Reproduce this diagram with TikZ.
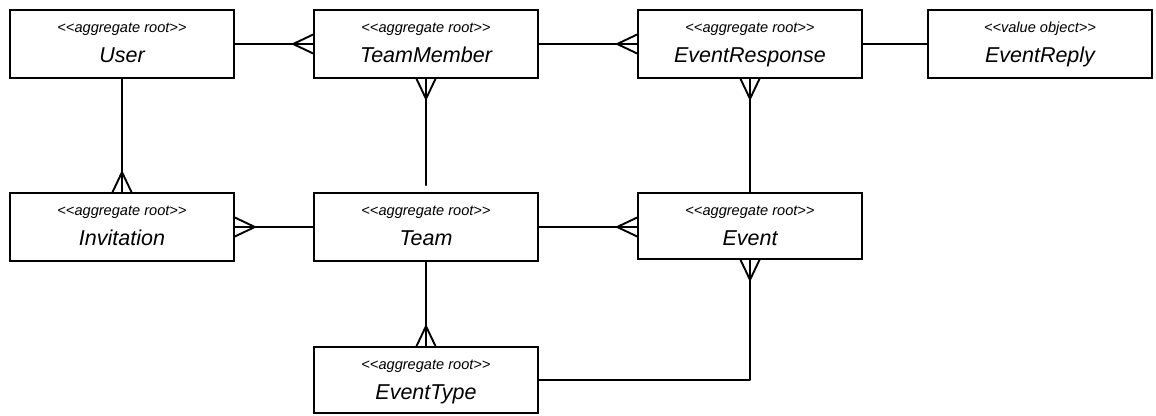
\documentclass[tikz,border=0pt]{standalone}
\usepackage{fontspec}
\setmainfont{Liberation Sans}[Ligatures=TeXOff]
\usetikzlibrary{calc}
\tikzset{
  box/.style={draw, rectangle, line width=1.7pt, inner sep=0pt,
    postaction={draw, line width=0.6pt, transform canvas={shift={(0.7pt,-0.6pt)}}}},
  stereo/.style={anchor=base, inner sep=0pt, font=\fontsize{14.6}{16}\selectfont\itshape},
  title/.style={anchor=base, inner sep=0pt, font=\fontsize{21.5}{24}\selectfont\itshape},
  conn/.style={line width=1.9pt, line cap=round, line join=round},
}
\newcommand\crowfoot[2]{%
  \begin{scope}[shift={(#1)}, rotate=#2]
    \draw[conn] (20,0) -- (0,9.5) (20,0) -- (0,0) (20,0) -- (0,-9.5);
  \end{scope}}
\newcommand\umlbox[7]{% name, cx, cy, w, h, stereo, title
  \node[box, minimum width=#4pt, minimum height=#5pt] (#1) at (#2,#3) {};
  \node[stereo] (#1-s) at ($(#1.north)+(0,23)$) {#6};
  \node[title] (#1-t) at ($(#1.north)+(0,53)$) {#7};}
\begin{document}
\begin{tikzpicture}[x=1pt, y=-1pt]
  \useasboundingbox (0,0) rectangle (1156,415);
  \umlbox{user}{122}{44}{224}{68}{<<aggregate root>>}{User}
  \umlbox{teammember}{426}{44}{224}{68}{<<aggregate root>>}{TeamMember}
  \umlbox{eventresponse}{750}{44}{224}{68}{<<aggregate root>>}{EventResponse}
  \umlbox{eventreply}{1040}{44}{224}{68}{<<value object>>}{EventReply}
  \umlbox{invitation}{122}{227}{224}{68}{<<aggregate root>>}{Invitation}
  \umlbox{team}{426}{227}{224}{68}{<<aggregate root>>}{Team}
  \umlbox{event}{750}{226}{224}{66}{<<aggregate root>>}{Event}
  \umlbox{eventtype}{426}{380}{224}{66}{<<aggregate root>>}{EventType}

  % User -- TeamMember
  \draw[conn] (user.east) -- (teammember.west);
  \crowfoot{teammember.west}{180}
  % TeamMember -- EventResponse
  \draw[conn] (teammember.east) -- (eventresponse.west);
  \crowfoot{eventresponse.west}{180}
  % EventResponse -- EventReply
  \draw[conn] (eventresponse.east) -- (eventreply.west);
  % User -- Invitation
  \coordinate (invtop) at (user.south |- invitation.north);
  \draw[conn] (user.south) -- (invtop);
  \crowfoot{invtop}{90}
  % TeamMember -- Team
  \coordinate (teamtop) at ($(teammember.south |- team.north)+(0,-7)$);
  \draw[conn] (teammember.south) -- (teamtop);
  \crowfoot{teammember.south}{-90}
  % EventResponse -- Event
  \draw[conn] (eventresponse.south) -- (event.north);
  \crowfoot{eventresponse.south}{-90}
  % Invitation -- Team
  \draw[conn] (invitation.east) -- (team.west);
  \crowfoot{invitation.east}{0}
  % Team -- Event
  \coordinate (evleft) at (event.west |- team.east);
  \draw[conn] (team.east) -- (evleft);
  \crowfoot{evleft}{180}
  % Team -- EventType
  \draw[conn] (team.south) -- (eventtype.north);
  \crowfoot{eventtype.north}{90}
  % EventType -- Event
  \draw[conn] (eventtype.east) -| (event.south);
  \crowfoot{event.south}{-90}
\end{tikzpicture}
\end{document}
